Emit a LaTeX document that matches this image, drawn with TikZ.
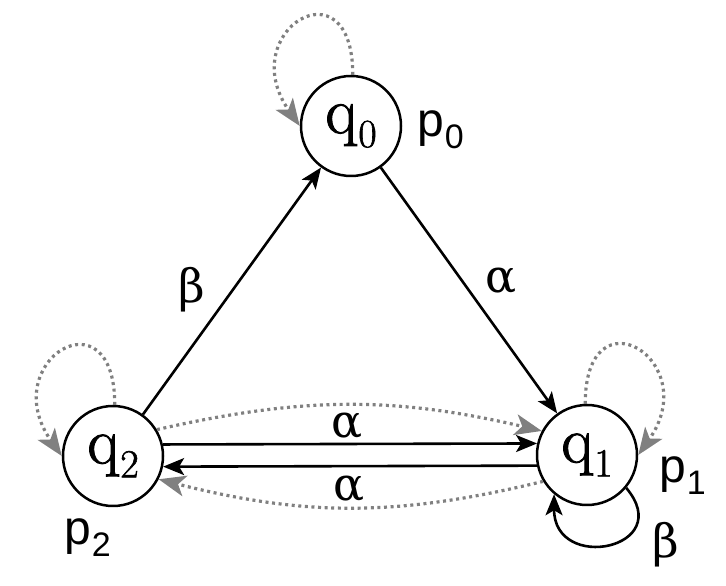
\documentclass[tikz,border=0pt]{standalone}
\usepackage{fontspec}
\newfontfamily\lmr[FakeBold=1.4]{Latin Modern Roman}
\newfontfamily\dvs{DejaVu Serif}
\newfontfamily\sansf{Liberation Sans}
\usetikzlibrary{arrows.meta}
\definecolor{dotgray}{RGB}{128,128,128}
\newcommand{\qlab}[1]{\raisebox{-5pt}{\lmr\fontsize{66}{66}\selectfont q\kern1pt\raisebox{-14pt}{\fontsize{40}{40}\selectfont #1}}}
\newcommand{\plab}[1]{\sansf\fontsize{48}{48}\selectfont p\kern1pt\raisebox{-12pt}{\fontsize{34}{34}\selectfont #1}}
\begin{document}
\begin{tikzpicture}[x=1pt,y=1pt,
  state/.style={circle,draw,line width=2.5pt,minimum size=100pt,inner sep=0pt},
  edge/.style={line width=2.6pt,-{Stealth[length=21pt,width=17pt,inset=5pt]}},
  dotedge/.style={line width=3.2pt,color=dotgray,dash pattern=on 3pt off 3.6pt,-{Stealth[length=27pt,width=21pt,inset=7pt]}},
  lab/.style={inner sep=0pt,font=\dvs\fontsize{46}{46}\selectfont},
  plabel/.style={inner sep=0pt,anchor=base west}]
\path[use as bounding box] (0,0) rectangle (726,586);
\node[state] (q0) at (351,460) {\qlab{0}};
\node[state] (q1) at (587,131) {\qlab{1}};
\node[state] (q2) at (113,130) {\qlab{2}};
\node[plabel] (p0) at (417,449) {\plab{0}};
\node[plabel] (p1) at (659,103) {\plab{1}};
\node[plabel] (p2) at (64,41) {\plab{2}};
% solid transitions
\draw[edge] (q2) -- (q0);
\draw[edge] (q0) -- (q1);
\draw[edge] (q2.13) -- (q1.167);
\draw[edge] (q1.192) -- (q2.348);
\draw[edge] (q1.-40) to[out=-50,in=-90,looseness=2.8] (q1.230);
% dotted transitions
\draw[dotedge] (q2.31) to[bend left=13] (q1.152);
\draw[dotedge] (q1.211) to[bend left=14] (q2.333);
\draw[dotedge] (q0.88) to[out=90,in=125,looseness=4] (q0.180);
\draw[dotedge] (q2.88) to[out=90,in=125,looseness=4] (q2.180);
\draw[dotedge] (q1.92) to[out=90,in=55,looseness=4] (q1.0);
% labels
\node[lab] (a1) at (347,160) {α};
\node[lab] (a2) at (349,97) {α};
\node[lab] (b1) at (192,296) {β};
\node[lab] (a3) at (501,305) {α};
\node[lab] (b2) at (666,41) {β};
\end{tikzpicture}
\end{document}
